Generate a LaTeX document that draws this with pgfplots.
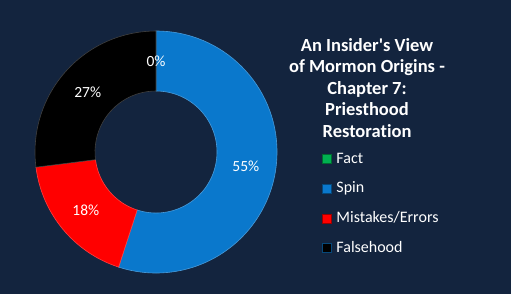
\documentclass[border=0pt]{standalone}
\usepackage{pgfplots}
\usepackage{pgfplotstable}
\pgfplotsset{compat=1.18}
\usepackage{fontspec}
\setmainfont{Carlito}[Ligatures={NoCommon}]
\definecolor{bg}{HTML}{13243E}
\definecolor{cfact}{HTML}{00B050}
\definecolor{cspin}{HTML}{0A78CC}
\definecolor{cmist}{HTML}{FF0000}
\definecolor{cfalse}{HTML}{000000}
\newcommand\lblfont{\fontsize{15.5bp}{17bp}\selectfont}
\newcommand\legfont{\fontsize{16bp}{18bp}\selectfont}
\newcommand\titlefont{\fontsize{18.5bp}{21.5bp}\selectfont\bfseries}

\pgfplotstableread{
label value color
Fact 0 cfact
Spin 55 cspin
Mistakes/Errors 18 cmist
Falsehood 27 cfalse
}\pietable

\begin{document}
\begin{tikzpicture}
\begin{axis}[x=1bp,y=1bp,xmin=0,xmax=511,ymin=0,ymax=294,
  scale only axis, hide axis, clip=false,
  legend style={at={(0.630,0.4864)}, anchor=north west, draw=none, fill=none,
    text=white, font=\legfont, row sep=14.3bp, column sep=2.5bp, inner sep=0pt,
    cells={anchor=west, inner sep=0pt, text height=10bp, text depth=3bp}},
  legend image code/.code={\draw[#1,line width=0.8bp] (0bp,-4.5bp) rectangle (9bp,4.5bp);},
]
\fill[bg] (axis cs:0,0) rectangle (axis cs:511,294);
\def\cx{156}\def\cy{142}\def\ro{121}\def\ri{61}
\def\cum{0}
\pgfplotsforeachungrouped \i in {0,...,3}{%
  \pgfplotstablegetelem{\i}{value}\of\pietable \let\val\pgfplotsretval
  \pgfplotstablegetelem{\i}{color}\of\pietable \let\col\pgfplotsretval
  \pgfmathsetmacro\anga{90-3.6*\cum}%
  \pgfmathsetmacro\angb{90-3.6*(\cum+\val)}%
  \pgfmathsetmacro\xo{\cx+\ro*cos(\anga)}\pgfmathsetmacro\yo{\cy+\ro*sin(\anga)}%
  \pgfmathsetmacro\xin{\cx+\ri*cos(\angb)}\pgfmathsetmacro\yin{\cy+\ri*sin(\angb)}%
  \edef\temp{\noexpand\fill[\col, draw=\col!75!white, line width=0.6bp] (axis cs:\xo,\yo) arc[start angle=\anga,end angle=\angb,radius=\ro bp] -- (axis cs:\xin,\yin) arc[start angle=\angb,end angle=\anga,radius=\ri bp] -- cycle;}%
  \temp
  \pgfmathsetmacro\cum{\cum+\val}%
}
\def\cum{0}
\pgfplotsforeachungrouped \i in {0,...,3}{%
  \pgfplotstablegetelem{\i}{value}\of\pietable \let\val\pgfplotsretval
  \pgfmathsetmacro\angm{90-3.6*(\cum+\val/2)}%
  \pgfmathsetmacro\xl{\cx+91*cos(\angm)}\pgfmathsetmacro\yl{\cy+91*sin(\angm)}%
  \edef\temp{\noexpand\node[text=white,font=\noexpand\lblfont] at (axis cs:\xl,\yl) {\val\noexpand\%};}%
  \temp
  \pgfmathsetmacro\cum{\cum+\val}%
}
\node[anchor=north, align=center, text=white, font=\titlefont, inner sep=0pt] at (axis cs:367,256)
 {An Insider\textquotesingle s View\\of Mormon Origins -\\Chapter 7:\\Priesthood\\Restoration};
\addlegendimage{fill=cfact,draw=cfact!60!black}
\addlegendentry{Fact}
\addlegendimage{fill=cspin,draw=cspin!60!black}
\addlegendentry{Spin}
\addlegendimage{fill=cmist,draw=cmist!60!black}
\addlegendentry{Mistakes/Errors}
\addlegendimage{fill=cfalse,draw=cspin!60!black}
\addlegendentry{Falsehood}
\end{axis}
\end{tikzpicture}
\end{document}
